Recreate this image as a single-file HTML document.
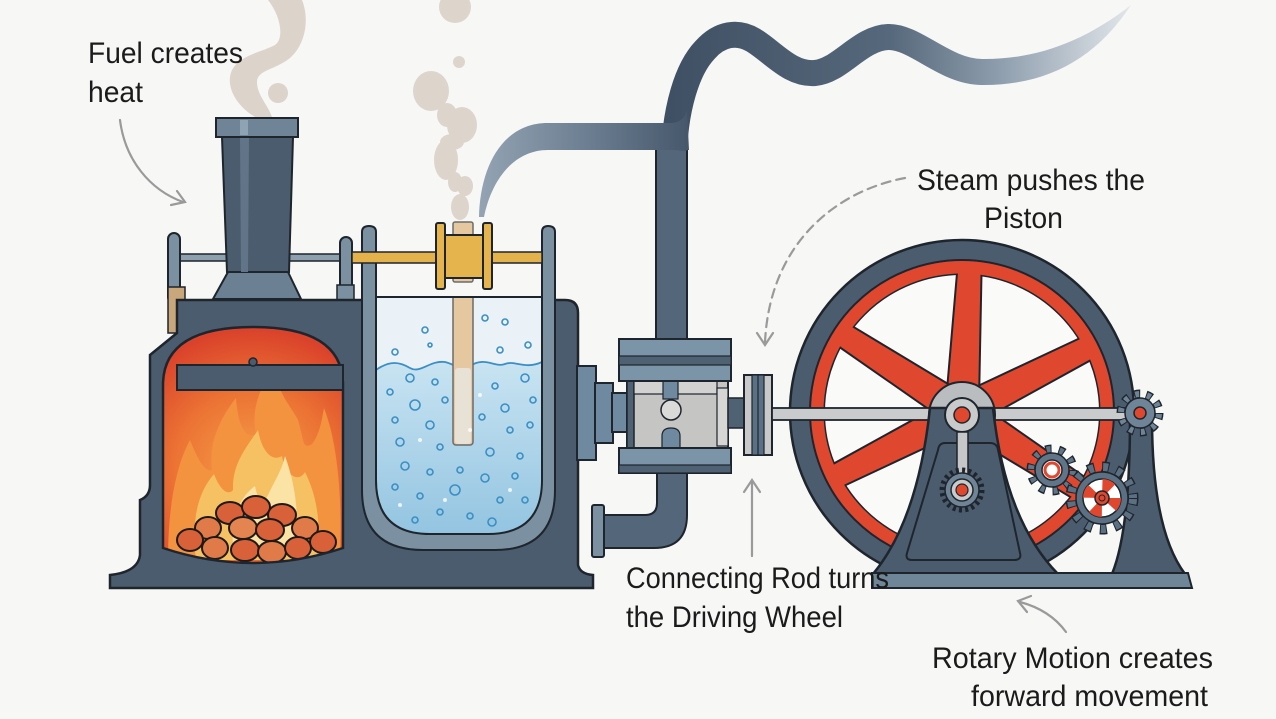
<!DOCTYPE html>
<html>
<head>
<meta charset="utf-8">
<style>
html,body{margin:0;padding:0;background:#f7f7f5;}
svg{display:block;}
.lbl{font-family:"Liberation Sans Narrow","Liberation Sans",sans-serif;font-size:30px;fill:#1b1b1b;}
</style>
</head>
<body>
<svg width="1276" height="719" viewBox="0 0 1276 719" xmlns="http://www.w3.org/2000/svg">
<defs>
  <radialGradient id="fireG" cx="253" cy="470" r="140" gradientUnits="userSpaceOnUse">
    <stop offset="0" stop-color="#f6a04a"/>
    <stop offset="0.55" stop-color="#ec7434"/>
    <stop offset="1" stop-color="#da432b"/>
  </radialGradient>
  <linearGradient id="waterG" x1="0" y1="360" x2="0" y2="535" gradientUnits="userSpaceOnUse">
    <stop offset="0" stop-color="#c9e4f2"/>
    <stop offset="1" stop-color="#93c4e1"/>
  </linearGradient>
  <linearGradient id="waveG" x1="660" y1="0" x2="1130" y2="0" gradientUnits="userSpaceOnUse">
    <stop offset="0" stop-color="#3f4f63"/>
    <stop offset="0.49" stop-color="#56687b"/>
    <stop offset="0.72" stop-color="#8d9dad"/>
    <stop offset="1" stop-color="#e2e6ea"/>
  </linearGradient>
  <linearGradient id="tipG" x1="480" y1="0" x2="690" y2="0" gradientUnits="userSpaceOnUse">
    <stop offset="0" stop-color="#93a3b3"/>
    <stop offset="0.5" stop-color="#6d7f92"/>
    <stop offset="1" stop-color="#46576b"/>
  </linearGradient>
  <clipPath id="fireClip">
    <path d="M163,548 L163,385 Q163,327 253,327 Q343,327 343,385 L343,548 Q253,578 163,548 Z"/>
  </clipPath>
  <clipPath id="tankClip">
    <path d="M376,297 L542,297 L542,480 Q542,534 488,534 L430,534 Q376,534 376,480 Z"/>
  </clipPath>
</defs>

<rect width="1276" height="719" fill="#f7f7f5"/>

<!-- chimney smoke -->
<g fill="#dcd4cb">
  <path d="M255,117 C235,105 225,85 232,70 C240,55 262,52 275,45 C285,38 280,15 268,0 L302,0 C310,20 305,45 290,58 C275,70 257,70 257,82 C257,95 268,105 272,117 Z"/>
  <circle cx="278" cy="93" r="10"/>
</g>
<!-- steam wisp over tank -->
<g fill="#ddd5cc">
  <circle cx="455" cy="7" r="16"/>
  <circle cx="459" cy="62" r="6"/>
  <ellipse cx="431" cy="91" rx="18" ry="20"/>
  <ellipse cx="462" cy="125" rx="15" ry="18"/>
  <ellipse cx="447" cy="115" rx="10" ry="12"/>
  <ellipse cx="446" cy="160" rx="12" ry="20"/>
  <ellipse cx="452" cy="142" rx="12" ry="8"/>
  <ellipse cx="465" cy="186" rx="8" ry="10"/>
  <ellipse cx="455" cy="182" rx="7" ry="10"/>
  <ellipse cx="460" cy="207" rx="9" ry="13"/>
</g>

<!-- upper vertical pipe -->
<rect x="656" y="146" width="31" height="196" fill="#53667a" stroke="#1e252c" stroke-width="2"/>
<!-- wavy steam pipe: rising + wave -->
<path d="M674,150 C676,110 686,70 705,50 C720,33 738,31 753,40 C773,52 790,75 815,73 C840,71 860,38 888,37 C915,36 945,72 982,72" fill="none" stroke="url(#waveG)" stroke-width="26" stroke-linecap="butt"/>
<path d="M980,59 C1030,60 1080,45 1131,5 C1095,60 1045,86 980,85 Z" fill="url(#waveG)"/>
<!-- left tip band -->
<path d="M479,217 C480,170 500,125 545,123 L672,123 Q684,122 687,110 L689,150 L548,150 C515,150 492,178 484,217 Z" fill="url(#tipG)"/>

<!-- lower pipe -->
<path d="M657,470 L687,470 L687,515 Q687,548 654,548 L595,548 L595,515 L645,515 Q657,515 657,503 Z" fill="#53667a" stroke="#1e252c" stroke-width="2"/>
<rect x="592" y="505" width="12" height="52" rx="2" fill="#7b90a1" stroke="#1e252c" stroke-width="2"/>

<!-- left rods and posts -->
<rect x="180" y="254" width="162" height="7" fill="#8ea0ad" stroke="#1e252c" stroke-width="1.5"/>
<rect x="168" y="233" width="12" height="70" rx="6" fill="#7b90a1" stroke="#1e252c" stroke-width="2"/>
<rect x="168" y="287" width="17" height="46" fill="#c9a77a" stroke="#1e252c" stroke-width="1.5"/>
<rect x="340" y="237" width="12" height="60" rx="6" fill="#7b90a1" stroke="#1e252c" stroke-width="2"/>
<rect x="337" y="285" width="17" height="15" fill="#7b90a1" stroke="#1e252c" stroke-width="1.5"/>

<!-- chimney -->
<path d="M213,299 L228,272 L288,272 L301,299 Z" fill="#6b8092" stroke="#1e252c" stroke-width="2"/>
<path d="M222,137 L293,137 L289,272 L227,272 Z" fill="#4b5c6e" stroke="#1e252c" stroke-width="2"/>
<path d="M240,137 L249,137 L248,272 L241,272 Z" fill="#617488"/>
<rect x="216" y="118" width="82" height="19" fill="#6f8597" stroke="#1e252c" stroke-width="2"/>
<rect x="240" y="120" width="8" height="15" fill="#8ea3b3"/>

<!-- main body -->
<path d="M177,300 L565,300 Q578,300 578,313 L578,565 Q580,574 593,575 L593,588 L110,588 L110,575 Q138,572 140,555 L140,500 Q150,496 150,485 L150,355 L177,333 Z" fill="#4b5c6e" stroke="#1e252c" stroke-width="2.5"/>

<!-- firebox -->
<path d="M163,548 L163,385 Q163,327 253,327 Q343,327 343,385 L343,548 Q253,578 163,548 Z" fill="url(#fireG)"/>
<g clip-path="url(#fireClip)">
  <path d="M168,560 C168,500 178,462 190,440 C198,460 205,472 212,470 C208,444 220,418 236,398 C238,426 246,440 256,434 C250,408 262,386 272,368 C280,396 292,408 298,420 C304,440 302,450 312,444 C320,434 322,418 324,408 C340,450 342,510 340,560 Z" fill="#f3923f"/>
  <path d="M196,560 C190,512 202,488 214,474 C220,490 228,496 233,490 C232,464 246,448 258,430 C262,452 272,462 282,456 C285,474 298,484 305,472 C317,496 322,525 316,560 Z" fill="#f6c163"/>
  <path d="M233,545 C230,512 244,494 255,486 C258,502 263,505 268,495 C275,480 282,470 285,456 C296,486 300,520 294,545 Z" fill="#fbe3a6"/>
  <g fill="#d8613a" stroke="#1e1a18" stroke-width="2">
    <ellipse cx="230" cy="513" rx="14" ry="11"/>
    <ellipse cx="256" cy="507" rx="14" ry="11"/>
    <ellipse cx="282" cy="515" rx="14" ry="11"/>
    <ellipse cx="208" cy="528" rx="13" ry="11" fill="#e07a48"/>
    <ellipse cx="305" cy="528" rx="13" ry="11" fill="#e07a48"/>
    <ellipse cx="243" cy="528" rx="14" ry="11" fill="#e48450"/>
    <ellipse cx="270" cy="530" rx="14" ry="11"/>
    <ellipse cx="190" cy="540" rx="13" ry="11"/>
    <ellipse cx="323" cy="542" rx="13" ry="11"/>
    <ellipse cx="215" cy="548" rx="13" ry="11" fill="#e07a48"/>
    <ellipse cx="245" cy="550" rx="14" ry="11"/>
    <ellipse cx="272" cy="552" rx="14" ry="11" fill="#e07a48"/>
    <ellipse cx="298" cy="548" rx="13" ry="11"/>
  </g>
</g>
<path d="M163,548 L163,385 Q163,327 253,327 Q343,327 343,385 L343,548 Q253,578 163,548 Z" fill="none" stroke="#1e252c" stroke-width="2.5"/>
<rect x="177" y="365" width="166" height="25" fill="#4b5c6e" stroke="#1e252c" stroke-width="2"/>
<circle cx="253" cy="362" r="4" fill="#4b5c6e" stroke="#1e252c" stroke-width="1.5"/>

<!-- tank interior -->
<path d="M376,297 L542,297 L542,480 Q542,534 488,534 L430,534 Q376,534 376,480 Z" fill="#eaf2f7"/>
<g clip-path="url(#tankClip)">
  <path d="M376,370 C390,360 400,362 410,368 C420,374 430,360 445,362 C455,364 460,372 470,366 C485,356 495,368 505,364 C515,360 525,370 542,362 L542,540 L376,540 Z" fill="url(#waterG)"/>
  <path d="M376,370 C390,360 400,362 410,368 C420,374 430,360 445,362 C455,364 460,372 470,366 C485,356 495,368 505,364 C515,360 525,370 542,362" fill="none" stroke="#3a8fc4" stroke-width="1.8"/>
  <rect x="453" y="277" width="20" height="168" rx="3" fill="#e6c8a0" stroke="#6b6b6b" stroke-width="1.5"/>
  <rect x="455" y="368" width="16" height="76" rx="3" fill="#e8ecec" opacity="0.7"/>
  <g fill="none" stroke="#3a8fc4" stroke-width="1.6">
    <circle cx="425" cy="330" r="3"/><circle cx="485" cy="318" r="3"/><circle cx="505" cy="322" r="3"/>
    <circle cx="395" cy="352" r="3"/><circle cx="430" cy="345" r="2"/><circle cx="500" cy="350" r="3"/><circle cx="528" cy="345" r="3"/>
    <circle cx="410" cy="378" r="4"/><circle cx="390" cy="392" r="3"/><circle cx="435" cy="382" r="3"/><circle cx="495" cy="386" r="3"/><circle cx="525" cy="378" r="4"/>
    <circle cx="415" cy="405" r="5"/><circle cx="445" cy="400" r="3"/><circle cx="505" cy="408" r="4"/><circle cx="533" cy="400" r="3"/>
    <circle cx="395" cy="420" r="3"/><circle cx="430" cy="425" r="4"/><circle cx="482" cy="417" r="3"/><circle cx="510" cy="430" r="3"/><circle cx="530" cy="425" r="3"/>
    <circle cx="400" cy="442" r="4"/><circle cx="440" cy="447" r="3"/><circle cx="490" cy="452" r="4"/><circle cx="520" cy="456" r="3"/>
    <circle cx="405" cy="466" r="4"/><circle cx="430" cy="472" r="3"/><circle cx="460" cy="470" r="3"/><circle cx="485" cy="478" r="4"/><circle cx="515" cy="476" r="3"/>
    <circle cx="395" cy="487" r="3"/><circle cx="420" cy="496" r="3"/><circle cx="455" cy="490" r="5"/><circle cx="500" cy="500" r="3"/><circle cx="525" cy="500" r="3"/>
    <circle cx="440" cy="512" r="3"/><circle cx="470" cy="516" r="3"/><circle cx="492" cy="522" r="4"/><circle cx="415" cy="520" r="3"/>
  </g>
  <g fill="#ffffff" opacity="0.8">
    <circle cx="420" cy="440" r="2"/><circle cx="470" cy="430" r="2"/><circle cx="445" cy="500" r="2"/><circle cx="510" cy="490" r="2"/><circle cx="400" cy="505" r="2"/><circle cx="480" cy="395" r="2"/>
  </g>
</g>
<line x1="376" y1="297" x2="542" y2="297" stroke="#1e252c" stroke-width="2"/>
<!-- tank frame -->
<path d="M362,232 Q362,226 369,226 Q376,226 376,232 L376,480 Q376,534 430,534 L488,534 Q542,534 542,480 L542,232 Q542,226 548,226 Q555,226 555,232 L555,490 Q555,550 495,550 L423,550 Q362,550 362,490 Z" fill="#7b90a1" stroke="#1e252c" stroke-width="2"/>
<rect x="453" y="222" width="20" height="60" rx="2" fill="#e6c8a0" stroke="#6b6b6b" stroke-width="1.5"/>
<rect x="352" y="252" width="190" height="11" fill="#e3b24a" stroke="#1e252c" stroke-width="1.5"/>
<rect x="445" y="235" width="38" height="43" fill="#e6b44c" stroke="#1e252c" stroke-width="2"/>
<rect x="436" y="223" width="9" height="66" rx="2" fill="#e6b44c" stroke="#1e252c" stroke-width="2"/>
<rect x="483" y="223" width="9" height="66" rx="2" fill="#e6b44c" stroke="#1e252c" stroke-width="2"/>

<!-- cylinder assembly -->
<rect x="577" y="366" width="19" height="94" fill="#6f8aa0" stroke="#1e252c" stroke-width="2"/>
<rect x="595" y="383" width="18" height="60" fill="#6f8aa0" stroke="#1e252c" stroke-width="2"/>
<rect x="612" y="393" width="16" height="39" fill="#6f8aa0" stroke="#1e252c" stroke-width="2"/>
<rect x="627" y="381" width="101" height="67" fill="#c5c5c3" stroke="#1e252c" stroke-width="2"/>
<rect x="627" y="381" width="7" height="67" fill="#4e6274" stroke="#1e252c" stroke-width="1.5"/>
<rect x="634" y="381" width="83" height="13" fill="#d2d2d0" stroke="#1e252c" stroke-width="1.2"/>
<rect x="717" y="388" width="11" height="58" fill="#d6d6d4" stroke="#1e252c" stroke-width="1.2"/>
<rect x="663" y="381" width="15" height="18" fill="#6f8aa0" stroke="#1e252c" stroke-width="1.2"/>
<circle cx="671" cy="410" r="10" fill="#dadad8" stroke="#1e252c" stroke-width="1.5"/>
<path d="M662,448 L662,436 Q662,428 671,428 Q680,428 680,436 L680,448 Z" fill="#6f8aa0" stroke="#1e252c" stroke-width="1.2"/>
<rect x="619" y="339" width="112" height="42" fill="#7b94a7" stroke="#1e252c" stroke-width="2"/>
<rect x="619" y="356" width="112" height="9" fill="#4e6274" stroke="#1e252c" stroke-width="1.2"/>
<rect x="619" y="448" width="112" height="25" fill="#7b94a7" stroke="#1e252c" stroke-width="2"/>
<rect x="619" y="465" width="112" height="8" fill="#4e6274" stroke="#1e252c" stroke-width="1.2"/>
<rect x="728" y="398" width="16" height="30" fill="#4e6274" stroke="#1e252c" stroke-width="1.5"/>
<rect x="744" y="375" width="28" height="80" fill="#c9c9c9" stroke="#1e252c" stroke-width="2"/>
<rect x="752" y="375" width="12" height="80" fill="#5a7085" stroke="#1e252c" stroke-width="1.2"/>
<line x1="758" y1="375" x2="758" y2="455" stroke="#1e252c" stroke-width="1.2"/>

<!-- flywheel -->
<circle cx="962" cy="412" r="172" fill="#4b5c6e" stroke="#1e252c" stroke-width="2.5"/>
<circle cx="962" cy="412" r="152" fill="#e0472f" stroke="#1e252c" stroke-width="2"/>
<circle cx="962" cy="412" r="138" fill="#fafaf9" stroke="#1e252c" stroke-width="2"/>
<g fill="#e0472f" stroke="#1e252c" stroke-width="2">
  <path transform="translate(962,412) rotate(-87)" d="M25,-16 L146,-12 L146,12 L25,16 Z"/>
  <path transform="translate(962,412) rotate(-27)" d="M25,-16 L146,-12 L146,12 L25,16 Z"/>
  <path transform="translate(962,412) rotate(33)" d="M25,-16 L146,-12 L146,12 L25,16 Z"/>
  <path transform="translate(962,412) rotate(93)" d="M25,-16 L146,-12 L146,12 L25,16 Z"/>
  <path transform="translate(962,412) rotate(153)" d="M25,-16 L146,-12 L146,12 L25,16 Z"/>
  <path transform="translate(962,412) rotate(213)" d="M25,-16 L146,-12 L146,12 L25,16 Z"/>
</g>
<circle cx="962" cy="412" r="144.5" fill="none" stroke="#e0472f" stroke-width="12"/>

<!-- piston rod -->
<rect x="772" y="408" width="370" height="12" fill="#c9cbcc" stroke="#1e252c" stroke-width="1.8"/>

<circle cx="962" cy="415" r="33" fill="#b9bdc0" stroke="#1e252c" stroke-width="2"/>

<!-- stand -->
<path d="M930,408 L993,408 Q1005,520 1058,574 L873,574 Q918,520 930,408 Z" fill="#4b5c6e" stroke="#1e252c" stroke-width="2.5"/>
<path d="M945,443 L990,443 Q997,443 998,450 L1020,553 Q1022,560 1014,560 L912,560 Q905,560 907,553 L938,450 Q939,443 945,443 Z" fill="#4b5c6e" stroke="#1e252c" stroke-width="2"/>
<circle cx="962" cy="415" r="17" fill="#c8cacb" stroke="#1e252c" stroke-width="2"/>
<circle cx="962" cy="415" r="8" fill="#e0472f" stroke="#1e252c" stroke-width="1.5"/>
<rect x="957" y="432" width="11" height="52" fill="#c5c7c8" stroke="#1e252c" stroke-width="1.5"/>
<circle cx="962" cy="490" r="20" fill="none" stroke="#1e252c" stroke-width="5" stroke-dasharray="3 3.28"/>
<circle cx="962" cy="490" r="17" fill="#6f8597" stroke="#1e252c" stroke-width="1.5"/>
<circle cx="962" cy="490" r="11" fill="#c8cacb" stroke="#1e252c" stroke-width="1.5"/>
<circle cx="962" cy="490" r="6" fill="#e0472f" stroke="#1e252c" stroke-width="1.2"/>

<!-- right post -->
<path d="M1130,418 L1152,418 Q1152,530 1185,574 L1112,574 Q1130,530 1130,418 Z" fill="#4b5c6e" stroke="#1e252c" stroke-width="2.5"/>

<path d="M872,573 L1188,573 L1192,588 L872,588 Z" fill="#6f8698" stroke="#1e252c" stroke-width="2"/>

<!-- right top gear -->
<circle cx="1140" cy="413" r="19" fill="none" stroke="#1e252c" stroke-width="9" stroke-dasharray="6 5.94"/>
<circle cx="1140" cy="413" r="19" fill="none" stroke="#6f8597" stroke-width="6" stroke-dasharray="4 7.94" stroke-dashoffset="-1"/>
<circle cx="1140" cy="413" r="15" fill="#6f8597" stroke="#1e252c" stroke-width="1.5"/>
<circle cx="1140" cy="413" r="6" fill="#e0472f" stroke="#1e252c" stroke-width="1.5"/>

<!-- medium gear -->
<circle cx="1052" cy="470" r="21" fill="none" stroke="#1e252c" stroke-width="9" stroke-dasharray="6 7.19"/>
<circle cx="1052" cy="470" r="21" fill="none" stroke="#607587" stroke-width="6" stroke-dasharray="4 9.19" stroke-dashoffset="-1"/>
<circle cx="1052" cy="470" r="17" fill="#607587" stroke="#1e252c" stroke-width="1.5"/>
<circle cx="1052" cy="470" r="10" fill="#ffffff" stroke="#1e252c" stroke-width="1.5"/>
<circle cx="1052" cy="470" r="7" fill="none" stroke="#e0472f" stroke-width="3"/>

<!-- large gear -->
<circle cx="1102" cy="498" r="31" fill="none" stroke="#1e252c" stroke-width="11" stroke-dasharray="7 7.6"/>
<circle cx="1102" cy="498" r="31" fill="none" stroke="#5c7083" stroke-width="8" stroke-dasharray="5 9.6" stroke-dashoffset="-1"/>
<circle cx="1102" cy="498" r="26" fill="#5c7083" stroke="#1e252c" stroke-width="1.5"/>
<circle cx="1102" cy="498" r="19" fill="#ffffff" stroke="#1e252c" stroke-width="1.5"/>
<circle cx="1102" cy="498" r="9.5" fill="none" stroke="#e0472f" stroke-width="19" stroke-dasharray="7 7.92"/>
<circle cx="1102" cy="498" r="7" fill="#e0472f" stroke="#1e252c" stroke-width="1.5"/>
<circle cx="1102" cy="498" r="3" fill="none" stroke="#1e252c" stroke-width="1"/>

<!-- arrows -->
<g fill="none" stroke="#9a9a9a" stroke-width="2.2" stroke-linecap="round">
  <path d="M120,120 C125,160 150,190 183,202"/>
  <path d="M177,191 L185,202 L171,205"/>
  <path d="M905,178 C840,190 770,240 765,342" stroke-dasharray="9 6"/>
  <path d="M757,333 L765,345 L773,333"/>
  <path d="M752,556 L752,482"/>
  <path d="M744,492 L752,480 L760,492"/>
  <path d="M1066,632 Q1050,610 1020,602"/>
  <path d="M1031,596 L1018,601 L1027,612"/>
</g>

<!-- labels -->
<text class="lbl" x="88" y="63" textLength="155" lengthAdjust="spacingAndGlyphs">Fuel creates</text>
<text class="lbl" x="88" y="102" textLength="55" lengthAdjust="spacingAndGlyphs">heat</text>
<text class="lbl" x="917" y="190" textLength="228" lengthAdjust="spacingAndGlyphs">Steam pushes the</text>
<text class="lbl" x="984" y="228" textLength="79" lengthAdjust="spacingAndGlyphs">Piston</text>
<text class="lbl" x="626" y="588" textLength="263" lengthAdjust="spacingAndGlyphs">Connecting Rod turns</text>
<text class="lbl" x="626" y="627" textLength="217" lengthAdjust="spacingAndGlyphs">the Driving Wheel</text>
<text class="lbl" x="932" y="668" textLength="281" lengthAdjust="spacingAndGlyphs">Rotary Motion creates</text>
<text class="lbl" x="971" y="706" textLength="237" lengthAdjust="spacingAndGlyphs">forward movement</text>
</svg>
</body>
</html>
